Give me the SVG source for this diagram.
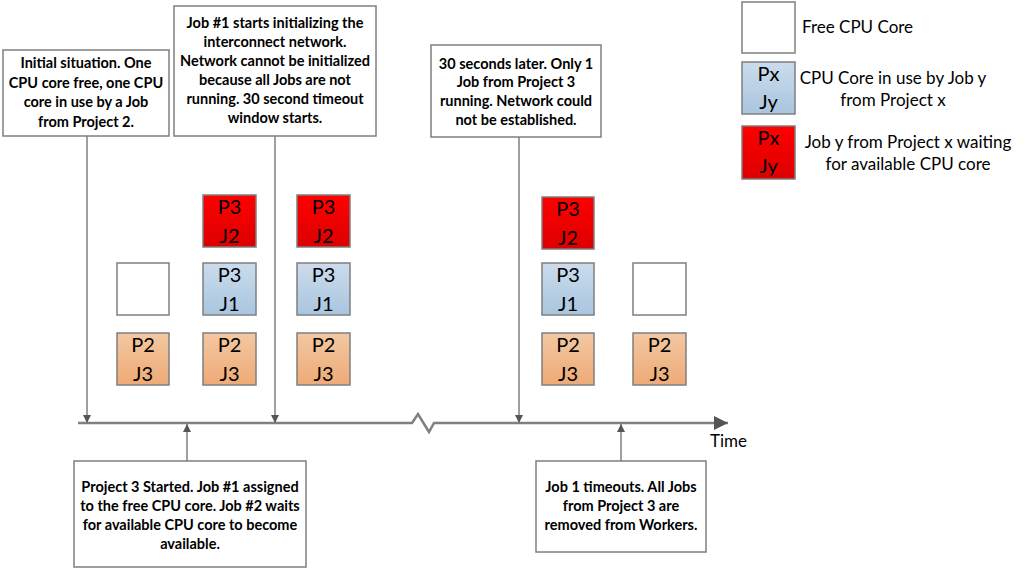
<svg xmlns="http://www.w3.org/2000/svg" width="1029" height="572" viewBox="0 0 1029 572">
<defs>
<linearGradient id="gRed" x1="0" y1="0" x2="0" y2="1"><stop offset="0" stop-color="#ff0000"/><stop offset="1" stop-color="#dc0000"/></linearGradient>
<linearGradient id="gBlue" x1="0" y1="0" x2="0" y2="1"><stop offset="0" stop-color="#cbdcec"/><stop offset="1" stop-color="#a9c5df"/></linearGradient>
<linearGradient id="gOr" x1="0" y1="0" x2="0" y2="1"><stop offset="0" stop-color="#f3c8a2"/><stop offset="1" stop-color="#eeaa76"/></linearGradient>
<marker id="ahs" viewBox="0 0 10 10" refX="10" refY="5" markerWidth="8" markerHeight="8" orient="auto" markerUnits="userSpaceOnUse"><path d="M0,0 L10,5 L0,10 z" fill="#555"/></marker>
<marker id="ahb" viewBox="0 0 10 10" refX="10" refY="5" markerWidth="14" markerHeight="14" orient="auto" markerUnits="userSpaceOnUse"><path d="M0,0 L10,5 L0,10 z" fill="#555"/></marker>
</defs>
<style>
.note{fill:#fff;stroke:#7f7f7f;stroke-width:1.5}
.nt{font-family:Lato,"Liberation Sans",sans-serif;font-weight:bold;font-size:14.5px;fill:#000;text-anchor:middle}
.sq{stroke:#7f7f7f;stroke-width:1.5}
.st{font-family:Lato,"Liberation Sans",sans-serif;font-size:20px;fill:#000;text-anchor:middle}
.lt{font-family:Lato,"Liberation Sans",sans-serif;font-size:17px;fill:#000}
.ln{stroke:#7f7f7f;stroke-width:1.5;fill:none}
.ax{stroke:#7f7f7f;stroke-width:2.5;fill:none}
</style>

<g id="connectors">
<path class="ax" d="M78,423 L412,423 L418,414 L429,432 L434,423 L728,423" marker-end="url(#ahb)"/>
<line class="ln" x1="87" y1="136" x2="87" y2="423" marker-end="url(#ahs)"/>
<line class="ln" x1="275" y1="136" x2="275" y2="423" marker-end="url(#ahs)"/>
<line class="ln" x1="519" y1="137" x2="519" y2="423" marker-end="url(#ahs)"/>
<line class="ln" x1="187" y1="461" x2="187" y2="424" marker-end="url(#ahs)"/>
<line class="ln" x1="621" y1="461" x2="621" y2="424" marker-end="url(#ahs)"/>
</g>

<text class="lt" x="710" y="447">Time</text>

<g id="note-initial">
<rect class="note" x="3" y="50" width="166" height="86"/>
<text class="nt"><tspan x="86" y="68">Initial situation. One</tspan><tspan x="86" y="88">CPU core free, one CPU</tspan><tspan x="86" y="107">core in use by a Job</tspan><tspan x="86" y="127">from Project 2.</tspan></text>
</g>

<g id="note-job1">
<rect class="note" x="174" y="6" width="202" height="130"/>
<text class="nt"><tspan x="275" y="28">Job #1 starts initializing the</tspan><tspan x="275" y="47">interconnect network.</tspan><tspan x="275" y="66">Network cannot be initialized</tspan><tspan x="275" y="85">because all Jobs are not</tspan><tspan x="275" y="104">running. 30 second timeout</tspan><tspan x="275" y="123">window starts.</tspan></text>
</g>

<g id="note-30s">
<rect class="note" x="431" y="45" width="170" height="92"/>
<text class="nt"><tspan x="516" y="69">30 seconds later. Only 1</tspan><tspan x="516" y="87">Job from Project 3</tspan><tspan x="516" y="106">running. Network could</tspan><tspan x="516" y="125">not be established.</tspan></text>
</g>

<g id="note-project3">
<rect class="note" x="74" y="461" width="232" height="106"/>
<text class="nt"><tspan x="190" y="492">Project 3 Started. Job #1 assigned</tspan><tspan x="190" y="511">to the free CPU core. Job #2 waits</tspan><tspan x="190" y="530">for available CPU core to become</tspan><tspan x="190" y="549">available.</tspan></text>
</g>

<g id="note-timeout">
<rect class="note" x="536" y="461" width="170" height="91"/>
<text class="nt"><tspan x="621" y="492">Job 1 timeouts. All Jobs</tspan><tspan x="621" y="511">from Project 3 are</tspan><tspan x="621" y="530">removed from Workers.</tspan></text>
</g>

<g id="c1-free"><rect class="sq" x="117" y="263" width="52" height="52" fill="#fff"/></g>
<g id="c1-p2j3"><rect class="sq" x="117" y="333" width="52" height="52" fill="url(#gOr)"/><text class="st"><tspan x="143" y="352">P2</tspan><tspan x="143" y="381">J3</tspan></text></g>

<g id="c2-p3j2"><rect class="sq" x="203" y="195" width="53" height="52" fill="url(#gRed)"/><text class="st"><tspan x="229.5" y="214">P3</tspan><tspan x="229.5" y="243">J2</tspan></text></g>
<g id="c2-p3j1"><rect class="sq" x="203" y="263" width="53" height="52" fill="url(#gBlue)"/><text class="st"><tspan x="229.5" y="282">P3</tspan><tspan x="229.5" y="311">J1</tspan></text></g>
<g id="c2-p2j3"><rect class="sq" x="203" y="333" width="53" height="52" fill="url(#gOr)"/><text class="st"><tspan x="229.5" y="352">P2</tspan><tspan x="229.5" y="381">J3</tspan></text></g>

<g id="c3-p3j2"><rect class="sq" x="297" y="195" width="53" height="52" fill="url(#gRed)"/><text class="st"><tspan x="323.5" y="214">P3</tspan><tspan x="323.5" y="243">J2</tspan></text></g>
<g id="c3-p3j1"><rect class="sq" x="297" y="263" width="53" height="52" fill="url(#gBlue)"/><text class="st"><tspan x="323.5" y="282">P3</tspan><tspan x="323.5" y="311">J1</tspan></text></g>
<g id="c3-p2j3"><rect class="sq" x="297" y="333" width="53" height="52" fill="url(#gOr)"/><text class="st"><tspan x="323.5" y="352">P2</tspan><tspan x="323.5" y="381">J3</tspan></text></g>

<g id="c4-p3j2"><rect class="sq" x="542" y="197" width="52" height="52" fill="url(#gRed)"/><text class="st"><tspan x="568" y="216">P3</tspan><tspan x="568" y="245">J2</tspan></text></g>
<g id="c4-p3j1"><rect class="sq" x="542" y="263" width="52" height="52" fill="url(#gBlue)"/><text class="st"><tspan x="568" y="282">P3</tspan><tspan x="568" y="311">J1</tspan></text></g>
<g id="c4-p2j3"><rect class="sq" x="542" y="333" width="52" height="52" fill="url(#gOr)"/><text class="st"><tspan x="568" y="352">P2</tspan><tspan x="568" y="381">J3</tspan></text></g>

<g id="c5-free"><rect class="sq" x="633" y="263" width="53" height="52" fill="#fff"/></g>
<g id="c5-p2j3"><rect class="sq" x="633" y="333" width="53" height="52" fill="url(#gOr)"/><text class="st"><tspan x="659.5" y="352">P2</tspan><tspan x="659.5" y="381">J3</tspan></text></g>

<g id="legend-free"><rect class="sq" x="742" y="2" width="53" height="51" fill="#fff"/><text class="lt" x="802" y="33">Free CPU Core</text></g>
<g id="legend-inuse"><rect class="sq" x="742" y="62" width="53" height="52" fill="url(#gBlue)"/><text class="st"><tspan x="768.5" y="81">Px</tspan><tspan x="768.5" y="109">Jy</tspan></text><text class="lt" text-anchor="middle"><tspan x="893" y="84">CPU Core in use by Job y</tspan><tspan x="893" y="106">from Project x</tspan></text></g>
<g id="legend-waiting"><rect class="sq" x="742" y="126" width="53" height="53" fill="url(#gRed)"/><text class="st"><tspan x="768.5" y="145">Px</tspan><tspan x="768.5" y="173">Jy</tspan></text><text class="lt" text-anchor="middle"><tspan x="908" y="148">Job y from Project x waiting</tspan><tspan x="908" y="170">for available CPU core</tspan></text></g>
</svg>
